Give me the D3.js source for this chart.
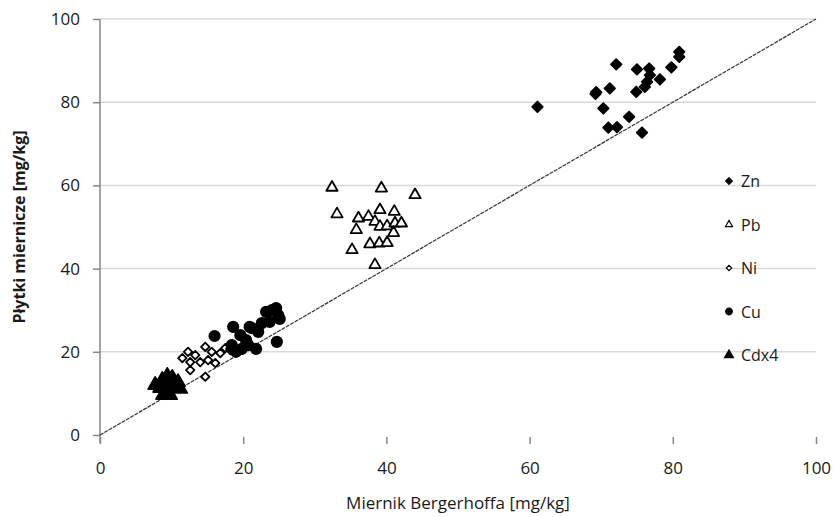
<!DOCTYPE html>
<html>
<head>
<meta charset="utf-8">
<script src="https://cdn.jsdelivr.net/npm/d3@7"></script>
<style>
  body { margin: 0; background: #fff; }
  text { font-family: "Open Sans", "Liberation Sans", sans-serif; }
</style>
</head>
<body>
<div id="chart-area"></div>
<script>
// values
const seriesNames = ['Zn', 'Pb', 'Ni', 'Cu', 'Cdx4'];
const xTicks = [0, 20, 40, 60, 80, 100];
const yTicks = [0, 20, 40, 60, 80, 100];

const zn = [
  [61.1, 78.9], [72.1, 89.1], [69.3, 82.4], [71.2, 83.3], [70.3, 78.5],
  [71.0, 73.9], [72.2, 74.0], [73.9, 76.5], [75.7, 72.7], [75.0, 87.9],
  [76.7, 88.1], [76.8, 86.5], [76.4, 84.9], [76.1, 83.7], [74.9, 82.5],
  [78.2, 85.5], [79.8, 88.4], [80.9, 92.1], [80.9, 90.9], [69.2, 82.0]
];
const pb = [
  [32.4, 59.5], [39.3, 59.3], [44.0, 57.7], [33.1, 53.1], [39.1, 54.1],
  [41.1, 53.7], [36.1, 52.1], [37.5, 52.5], [38.4, 51.3], [35.8, 49.3],
  [39.1, 50.1], [40.1, 50.2], [41.2, 50.9], [42.1, 50.9], [41.0, 48.6],
  [35.2, 44.5], [37.7, 45.9], [39.0, 46.1], [40.1, 46.2], [38.4, 40.9]
];
const ni = [
  [14.7, 21.2], [13.3, 19.2], [15.1, 18.0], [16.8, 19.7], [17.5, 20.9],
  [18.2, 20.4], [14.0, 17.5], [14.7, 14.0], [12.6, 17.5], [16.1, 17.3],
  [11.5, 18.5], [12.3, 20.0], [15.6, 20.0], [12.6, 15.6], [18.2, 20.8]
];
const cu = [
  [16.0, 23.8], [18.6, 26.0], [19.6, 24.0], [20.4, 22.8], [21.2, 25.7],
  [22.1, 24.8], [22.6, 26.9], [23.2, 29.6], [24.0, 30.0], [24.6, 30.5],
  [24.9, 28.8], [25.1, 27.9], [23.7, 27.2], [24.7, 22.4], [21.8, 20.7],
  [18.4, 21.6], [19.0, 20.0], [20.7, 21.6], [19.8, 20.7], [20.9, 26.0]
];
const cd = [
  [8.4, 11.3], [9.1, 12.5], [9.8, 13.2], [10.5, 11.8], [11.2, 11.1],
  [8.8, 9.6], [9.5, 10.3], [10.1, 13.7], [9.4, 14.2], [7.7, 12.0],
  [10.9, 12.7], [8.7, 13.2], [9.8, 9.6]
];

const margin = { top: 19, right: 19, bottom: 82, left: 100 };
const width = 835 - margin.left - margin.right;
const height = 517 - margin.top - margin.bottom;

const svg = d3.select('#chart-area').append('svg')
  .attr('width', 835)
  .attr('height', 517);

const g = svg.append('g')
  .attr('transform', `translate(${margin.left}, ${margin.top})`);

const x = d3.scaleLinear().domain([0, 100]).range([0, width]);
const y = d3.scaleLinear().domain([0, 100]).range([height, 0]);

// gridlines
g.selectAll('.grid')
  .data(yTicks.filter(d => d > 0))
  .enter().append('line')
  .attr('class', 'grid')
  .attr('x1', 0).attr('x2', width)
  .attr('y1', d => y(d)).attr('y2', d => y(d))
  .attr('stroke', '#d9d9d9')
  .attr('stroke-width', 1.5);

// y axis
const yAxisCall = d3.axisLeft(y).tickValues(yTicks).tickSize(7).tickPadding(13);
const yAxisGroup = g.append('g').call(yAxisCall);
yAxisGroup.select('.domain').attr('stroke', '#868686').attr('stroke-width', 1.5)
  .attr('d', `M0,${height + 8}V0`);
yAxisGroup.selectAll('.tick line').attr('stroke', '#868686').attr('stroke-width', 1.5);
yAxisGroup.selectAll('text').attr('font-size', '17px').attr('fill', '#1a1a1a')
  .attr('font-family', '"Open Sans", sans-serif');

// x axis (ticks only, no line)
const xAxisCall = d3.axisBottom(x).tickValues(xTicks).tickSize(0).tickPadding(27);
const xAxisGroup = g.append('g')
  .attr('transform', `translate(0, ${height})`)
  .call(xAxisCall);
xAxisGroup.select('.domain').remove();
xAxisGroup.selectAll('.tick')
  .append('line')
  .attr('y1', 2).attr('y2', 9)
  .attr('stroke', '#868686')
  .attr('stroke-width', 1.5);
xAxisGroup.selectAll('text').attr('font-size', '17px').attr('fill', '#1a1a1a')
  .attr('font-family', '"Open Sans", sans-serif');

// 1:1 line
g.append('line')
  .attr('x1', x(0)).attr('y1', y(0))
  .attr('x2', x(100)).attr('y2', y(100))
  .attr('stroke', '#333')
  .attr('stroke-width', 1.2)
  .attr('stroke-dasharray', '4,1');

// markers
const symbols = {
  Zn: { type: d3.symbolDiamond2, size: 70, fill: '#000', stroke: '#000' },
  Pb: { type: d3.symbolTriangle, size: 55, fill: '#fff', stroke: '#000' },
  Ni: { type: d3.symbolDiamond2, size: 45, fill: '#fff', stroke: '#000' },
  Cu: { type: d3.symbolCircle, size: 85, fill: '#000', stroke: '#000' },
  Cdx4: { type: d3.symbolTriangle, size: 85, fill: '#000', stroke: '#000' }
};
const seriesData = { Zn: zn, Pb: pb, Ni: ni, Cu: cu, Cdx4: cd };

seriesNames.forEach(name => {
  const s = symbols[name];
  g.selectAll(`.pt-${name}`)
    .data(seriesData[name])
    .enter().append('path')
    .attr('class', `pt-${name}`)
    .attr('transform', d => `translate(${x(d[0])}, ${y(d[1])})`)
    .attr('d', d3.symbol().type(s.type).size(s.size))
    .attr('fill', s.fill)
    .attr('stroke', s.stroke)
    .attr('stroke-width', 1.8)
    .attr('stroke-linejoin', 'round');
});

// legend
const legend = svg.append('g').attr('transform', 'translate(729, 181)');
const rows = legend.selectAll('g')
  .data(seriesNames)
  .enter().append('g')
  .attr('transform', (d, i) => `translate(0, ${i * 43.5})`);
rows.append('path')
  .attr('d', d => d3.symbol().type(symbols[d].type).size(symbols[d].size * 0.4)())
  .attr('fill', d => symbols[d].fill)
  .attr('stroke', d => symbols[d].stroke)
  .attr('stroke-width', 1.2);
rows.append('text')
  .attr('x', 12)
  .attr('y', 6)
  .attr('font-size', '16px')
  .attr('fill', '#1a1a1a')
  .text(d => d);

// axis titles
svg.append('text')
  .attr('x', margin.left + width / 2)
  .attr('y', 509)
  .attr('text-anchor', 'middle')
  .attr('font-size', '17px')
  .attr('fill', '#1a1a1a')
  .text('Miernik Bergerhoffa [mg/kg]');

svg.append('text')
  .attr('transform', `translate(25, ${margin.top + height / 2}) rotate(-90)`)
  .attr('text-anchor', 'middle')
  .attr('font-size', '16px')
  .attr('font-weight', 'bold')
  .attr('fill', '#1a1a1a')
  .text('Płytki miernicze [mg/kg]');
</script>
</body>
</html>
